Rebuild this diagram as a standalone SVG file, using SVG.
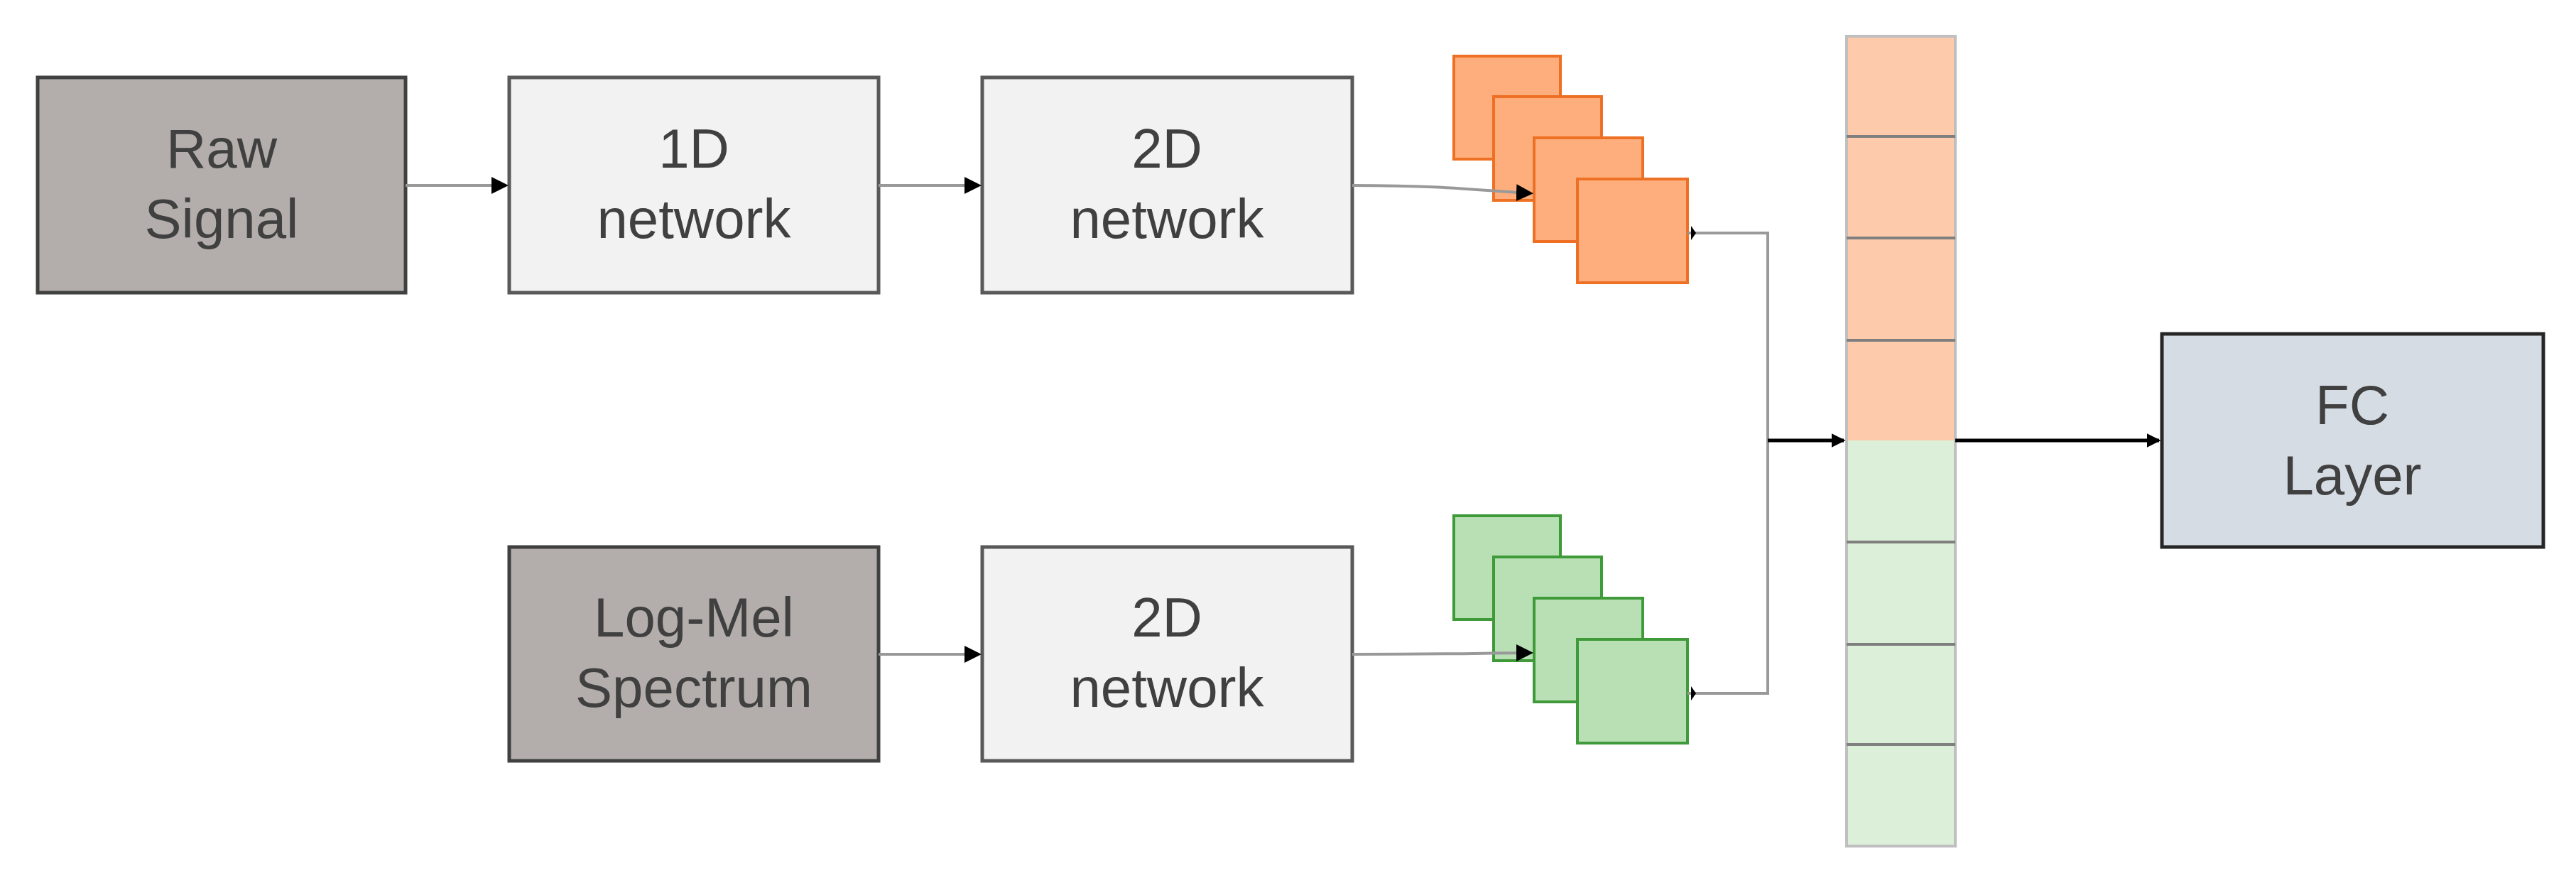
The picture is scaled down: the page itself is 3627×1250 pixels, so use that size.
<svg xmlns="http://www.w3.org/2000/svg" width="3627" height="1250" viewBox="0 0 3627 1250">
<style>
.t{font-family:"Liberation Sans",Arial,sans-serif;font-size:78px;fill:#404040;text-anchor:middle}
.dark{fill:#b3aeab;stroke:#404040;stroke-width:5}
.light{fill:#f2f2f2;stroke:#595959;stroke-width:5}
.or{fill:#fdae7c;stroke:#ee7024;stroke-width:4}
.gr{fill:#b8e0b4;stroke:#3f9a3a;stroke-width:4}
.c{fill:none;stroke:#999;stroke-width:4}
</style>
<defs><marker id="a" markerWidth="6" markerHeight="6" refX="5" refY="3" orient="auto" markerUnits="strokeWidth"><path d="M0,0 L6,3 L0,6 z" fill="#000"/></marker>
<marker id="b" markerWidth="4" markerHeight="4" refX="3.5" refY="2" orient="auto" markerUnits="strokeWidth"><path d="M0,0 L4,2 L0,4 z" fill="#000"/></marker></defs>
<rect width="3627" height="1250" fill="#fff"/>
<g id="raw"><rect class="dark" x="53" y="109" width="518" height="303"/><text class="t" x="312" y="236">Raw</text><text class="t" x="312" y="335">Signal</text></g>
<g id="net1d"><rect class="light" x="717" y="109" width="520" height="303"/><text class="t" x="977" y="236">1D</text><text class="t" x="977" y="335">network</text></g>
<g id="net2d-top"><rect class="light" x="1383" y="109" width="521" height="303"/><text class="t" x="1643" y="236">2D</text><text class="t" x="1643" y="335">network</text></g>
<g id="logmel"><rect class="dark" x="717" y="770" width="520" height="301"/><text class="t" x="977" y="896">Log-Mel</text><text class="t" x="977" y="995">Spectrum</text></g>
<g id="net2d-bot"><rect class="light" x="1383" y="770" width="521" height="301"/><text class="t" x="1643" y="896">2D</text><text class="t" x="1643" y="995">network</text></g>
<g id="maps-orange"><rect class="or" x="2047" y="79" width="150" height="145"/><rect class="or" x="2103" y="136" width="152" height="146"/><rect class="or" x="2160" y="194" width="153" height="146"/><rect class="or" x="2221" y="252" width="155" height="146"/></g>
<g id="maps-green"><rect class="gr" x="2047" y="726" width="150" height="146"/><rect class="gr" x="2103" y="784" width="152" height="146"/><rect class="gr" x="2160" y="842" width="153" height="146"/><rect class="gr" x="2221" y="900" width="155" height="146"/></g>
<g id="concat">
<rect x="2600" y="51" width="153" height="569" fill="#fdcbac"/><rect x="2600" y="620" width="153" height="571" fill="#dcefd8"/>
<rect x="2600" y="51" width="153" height="1140" fill="none" stroke="#bfbfbf" stroke-width="4"/>
<g stroke="#7f7f7f" stroke-width="4"><line x1="2600" y1="192" x2="2753" y2="192"/><line x1="2600" y1="335" x2="2753" y2="335"/><line x1="2600" y1="479" x2="2753" y2="479"/><line x1="2600" y1="763" x2="2753" y2="763"/><line x1="2600" y1="907" x2="2753" y2="907"/><line x1="2600" y1="1048" x2="2753" y2="1048"/></g>
</g>
<g id="fc"><rect x="3044" y="470" width="537" height="300" fill="#d6dce4" stroke="#262626" stroke-width="5"/><text class="t" x="3312" y="597">FC</text><text class="t" x="3312" y="696">Layer</text></g>
<g id="connectors">
<line class="c" x1="571" y1="261" x2="712" y2="261" marker-end="url(#a)"/>
<line class="c" x1="1237" y1="261" x2="1378" y2="261" marker-end="url(#a)"/>
<path class="c" d="M1904,261 C2050,261 2100,270 2155,272" marker-end="url(#a)"/>
<line class="c" x1="1237" y1="921" x2="1378" y2="921" stroke="#ddd" marker-end="url(#a)"/>
<path class="c" d="M1904,921 C2050,921 2100,919 2155,919" marker-end="url(#a)"/>
<path class="c" d="M2376,328 H2489 V976 H2376" stroke="#bbb"/>
<path d="M2381,318 L2388,328 L2381,338 z M2381,966 L2388,976 L2381,986 z" fill="#000"/>
<line x1="2489" y1="620" x2="2596" y2="620" stroke="#000" stroke-width="5" marker-end="url(#b)"/>
<line x1="2753" y1="620" x2="3040" y2="620" stroke="#000" stroke-width="5" marker-end="url(#b)"/>
</g>
</svg>
